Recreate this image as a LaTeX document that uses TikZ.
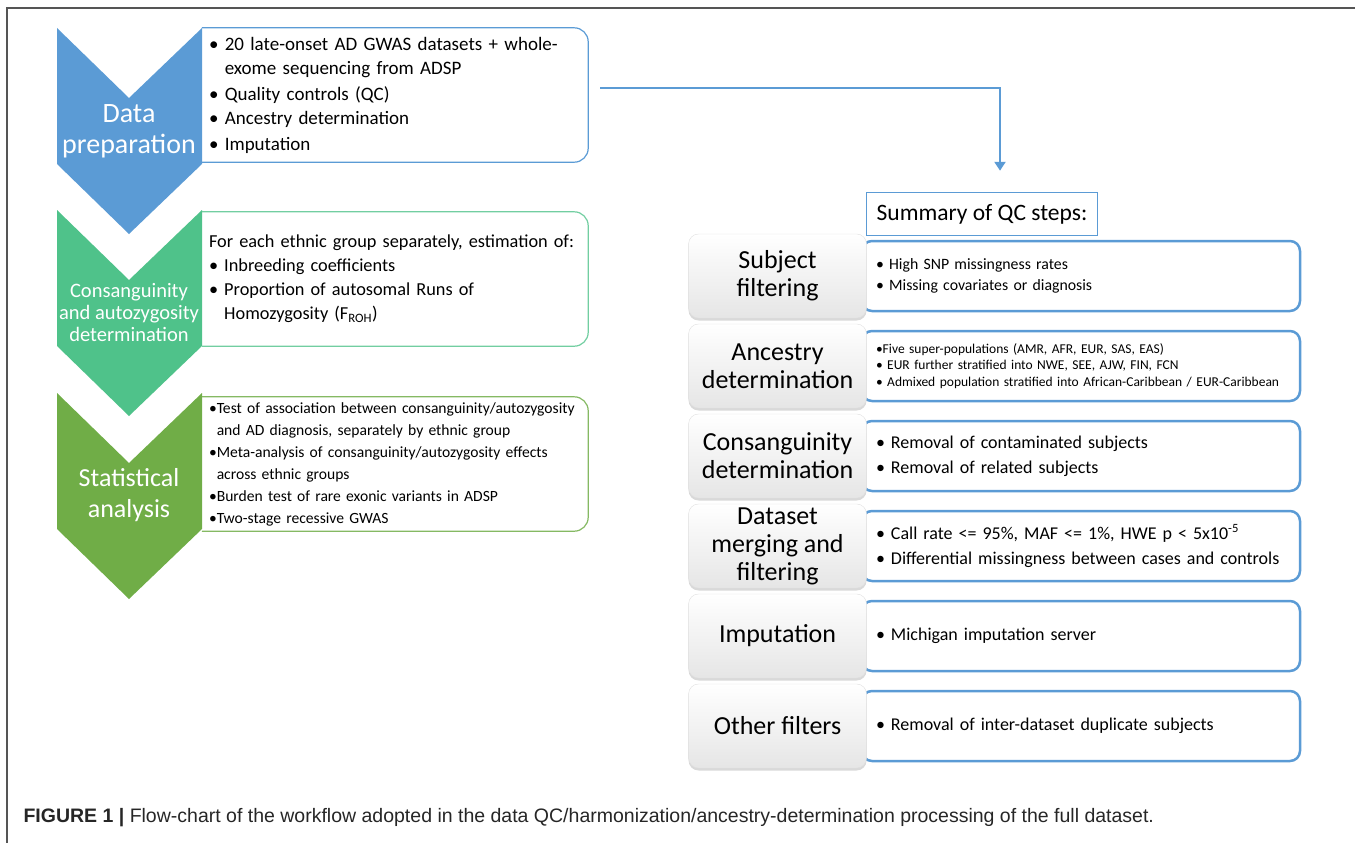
\documentclass[tikz,border=0pt]{standalone}
\usepackage{fontspec}
\setmainfont{Carlito}
\newfontfamily\capfont{Liberation Sans}
\usetikzlibrary{positioning,arrows.meta,shadows}

\definecolor{prepblue}{HTML}{5B9BD5}
\definecolor{conggreen}{HTML}{4FC28A}
\definecolor{statgreen}{HTML}{70AD47}
\definecolor{framegray}{HTML}{555555}

\begin{document}
\begin{tikzpicture}[x=1pt, y=-1pt,
			node distance=17.5pt and 10pt,
			every node/.style={font=\fontsize{19}{24}\selectfont},
			chevtext/.style={text=white, align=center, inner sep=0pt},
			leftbox/.style={minimum height=134pt, minimum width=386pt, text width=372pt, align=left, inner xsep=7pt},
			stepbox/.style={rectangle, rounded corners=10pt, draw=gray!25, top color=white, bottom color=gray!20, drop shadow={opacity=0.3, shadow xshift=0pt, shadow yshift=-2.5pt}, minimum width=178pt, minimum height=84pt, align=center, inner sep=2pt, font=\fontsize{26}{28}\selectfont},
			infobox/.style={rectangle, rounded corners=10pt, draw=prepblue, line width=2.5pt, minimum width=438pt, minimum height=70pt, text width=410pt, inner xsep=14pt, align=left, font=\fontsize{18}{25}\selectfont},
			sumbox/.style={rectangle, draw=prepblue, line width=1.5pt, minimum width=231pt, minimum height=43pt, font=\fontsize{23.5}{26}\selectfont},
			flow/.style={draw=prepblue, line width=2.5pt, -{Triangle[length=9pt, width=11pt]}}
			]
			
			\useasboundingbox (0,0) rectangle (1355,843);
			\draw [framegray, line width=1.5pt] (7,843) -- (7,8) -- (1355,8);
			
			\foreach \y/\col in {28/prepblue, 210/conggreen, 393/statgreen}
				\fill [\col] (57,\y) -- ++(72,70) -- ++(73,-70) -- ++(0,136) -- ++(-73,70) -- ++(-72,-70) -- cycle;
			
			\node (prepchev) at (129,131) [chevtext, font=\fontsize{28}{31}\selectfont] {Data\\preparation};
			\node (congchev) at (129,313) [chevtext, font=\fontsize{20.5}{22}\selectfont] {Consanguinity\\and autozygosity\\determination};
			\node (statchev) at (129,495) [chevtext, font=\fontsize{26}{31}\selectfont] {Statistical\\analysis};
			
			\node (prep) at (395,95) [leftbox] {\textbullet\ 20 late-onset AD GWAS datasets + whole-\\\hphantom{\textbullet\ }exome sequencing from ADSP\\[2pt]\textbullet\ Quality controls (QC)\\\textbullet\ Ancestry determination\\[2pt]\textbullet\ Imputation};
			\node (cong) at (395,279) [leftbox, font=\fontsize{18.3}{24}\selectfont] {For each ethnic group separately, estimation of:\\\textbullet\ Inbreeding coefficients\\\textbullet\ Proportion of autosomal Runs of\\\hphantom{\textbullet\ }Homozygosity (F\textsubscript{ROH})};
			\node (stat) at (395,464) [leftbox, font=\fontsize{15.6}{22}\selectfont] {\textbullet Test of association between consanguinity/autozygosity\\\hphantom{\textbullet}and AD diagnosis, separately by ethnic group\\\textbullet Meta-analysis of consanguinity/autozygosity effects\\\hphantom{\textbullet}across ethnic groups\\\textbullet Burden test of rare exonic variants in ADSP\\\textbullet Two-stage recessive GWAS};
			
			\draw [prepblue, line width=1.2pt, rounded corners=14pt] (prep.north west) -- (prep.north east) -- (prep.south east) -- (prep.south west);
			\draw [conggreen!80, line width=1.2pt, rounded corners=14pt] (cong.north west) -- (cong.north east) -- (cong.south east) -- (cong.south west);
			\draw [statgreen!85, line width=1.2pt, rounded corners=14pt] (stat.north west) -- (stat.north east) -- (stat.south east) -- (stat.south west);
			
			\node (subjtxt) at (1081,276) [infobox, font=\fontsize{15.8}{21}\selectfont] {\textbullet\ High SNP missingness rates\\\textbullet\ Missing covariates or diagnosis};
			\node (anctxt) [infobox, below=of subjtxt, font=\fontsize{13.5}{16.5}\selectfont] {\textbullet Five super-populations (AMR, AFR, EUR, SAS, EAS)\\\textbullet\ EUR further stratified into NWE, SEE, AJW, FIN, FCN\\\textbullet\ Admixed population stratified into African-Caribbean / EUR-Caribbean};
			\node (constxt) [infobox, below=of anctxt] {\textbullet\ Removal of contaminated subjects\\\textbullet\ Removal of related subjects};
			\node (mergetxt) [infobox, below=of constxt] {\textbullet\ Call rate <= 95\%, MAF <= 1\%, HWE p < 5x10\textsuperscript{-5}\\\textbullet\ Differential missingness between cases and controls};
			\node (imptxt) [infobox, below=of mergetxt] {\textbullet\ Michigan imputation server};
			\node (othtxt) [infobox, below=of imptxt] {\textbullet\ Removal of inter-dataset duplicate subjects};
			
			\node (subj) at ([xshift=6pt]subjtxt.west) [stepbox, anchor=east] {Subject\\filtering};
			\node (anc) at ([xshift=6pt]anctxt.west) [stepbox, anchor=east] {Ancestry\\determination};
			\node (cons) at ([xshift=6pt]constxt.west) [stepbox, anchor=east] {Consanguinity\\determination};
			\node (merge) at ([xshift=6pt]mergetxt.west) [stepbox, anchor=east] {Dataset\\merging and\\filtering};
			\node (imp) at ([xshift=6pt]imptxt.west) [stepbox, anchor=east] {Imputation};
			\node (oth) at ([xshift=6pt]othtxt.west) [stepbox, anchor=east] {Other filters};
			
			\node (summary) at (982,214) [sumbox] {Summary of QC steps:};
			
			\draw [flow] ([xshift=12pt,yshift=7pt]prep.east) -| ([xshift=18pt,yshift=21pt]summary.north);
			
			\node (caption) at (20,818) [anchor=west, text=black!85, font=\capfont\fontsize{19.5}{22}\selectfont] {\textbf{FIGURE 1 |} Flow-chart of the workflow adopted in the data QC/harmonization/ancestry-determination processing of the full dataset.};
			\end{tikzpicture}
\end{document}
